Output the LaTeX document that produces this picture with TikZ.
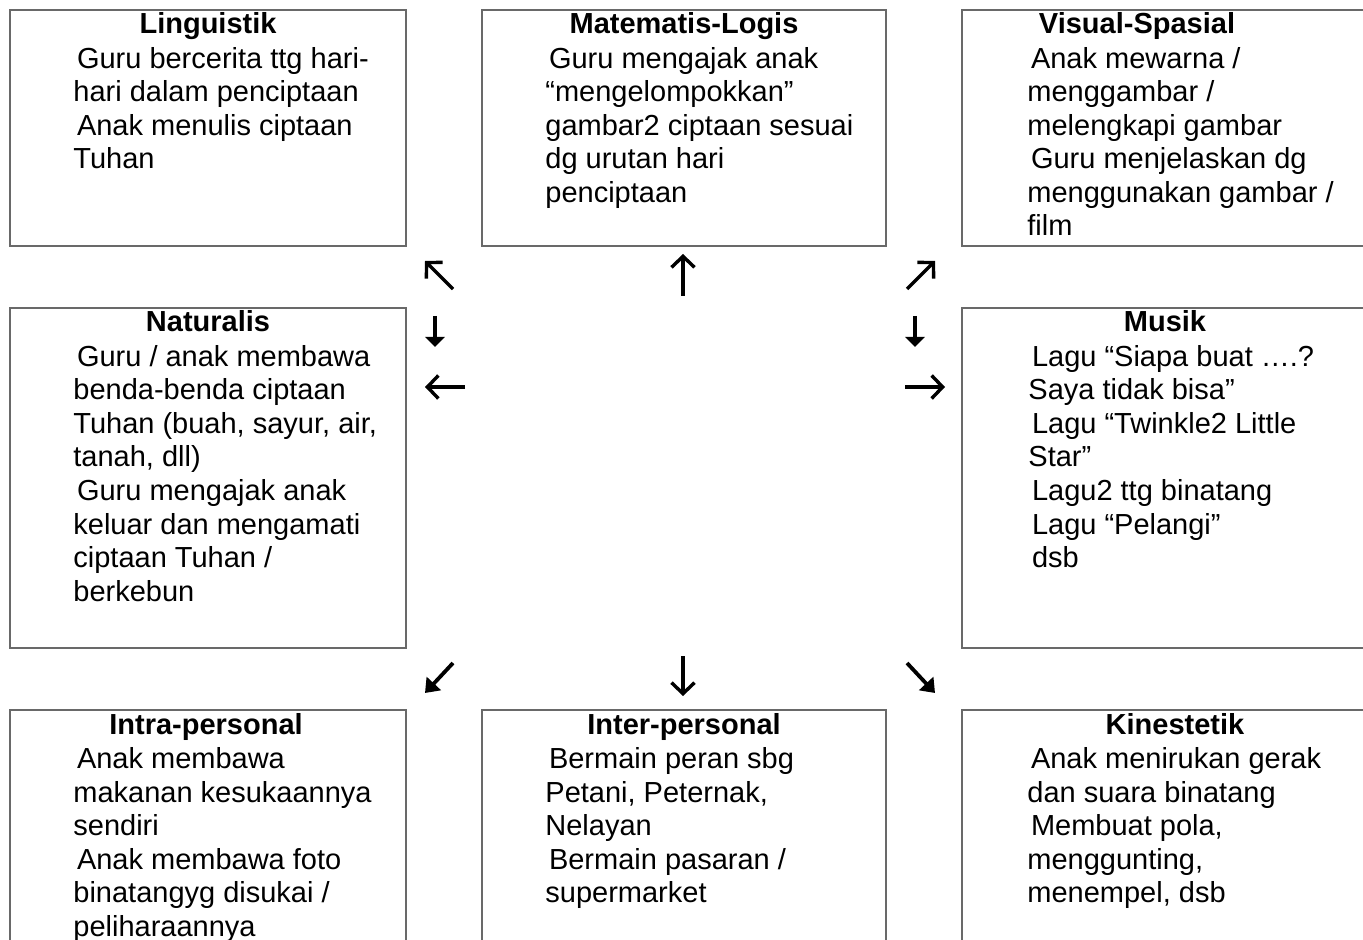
\documentclass[tikz,border=0pt]{standalone}
\usepackage{fontspec}
\setmainfont{Liberation Sans}
\usetikzlibrary{arrows.meta}
\definecolor{boxgray}{RGB}{105,105,105}
\newcommand{\ind}{\hspace*{1.8pt}}
\begin{document}
\begin{tikzpicture}[x=0.5pt,y=-0.5pt,
  box/.style={draw=boxgray, line width=1pt, inner sep=0, minimum width=198pt, minimum height=118pt},
  boxtitle/.style={anchor=base, inner sep=0, font=\fontsize{14.5pt}{16.75pt}\selectfont\bfseries},
  boxbody/.style={anchor=base west, inner sep=0, font=\fontsize{14.5pt}{16.75pt}\selectfont},
  openarr/.style={line width=1.7pt, -{Straight Barb[length=5.5pt,width=11.5pt]}},
  filledarr/.style={line width=1.6pt, -{Triangle[length=5pt,width=9.5pt]}},
  diagfill/.style={line width=1.9pt, -{Triangle[length=6.5pt,width=9.5pt]}}
]
\useasboundingbox (0,0) rectangle (1363,940);
\clip (0,0) rectangle (1363,940);
\fill[white] (0,0) rectangle (1363,940);

% boxes
\node[box] (bTL) at (208,128) {};
\node[box, minimum width=202pt] (bTM) at (684,128) {};
\node[box, minimum width=214pt] (bTR) at (1176,128) {};
\node[box, minimum height=170pt] (bML) at (208,478) {};
\node[box, minimum width=214pt, minimum height=170pt] (bMR) at (1176,478) {};
\node[box, minimum height=140pt] (bBL) at (208,850) {};
\node[box, minimum width=202pt, minimum height=140pt] (bBM) at (684,850) {};
\node[box, minimum width=214pt, minimum height=140pt] (bBR) at (1176,850) {};

% titles
\node[boxtitle] (tTL) at (208,34) {Linguistik};
\node[boxtitle] (tTM) at (684,34) {Matematis-Logis};
\node[boxtitle] (tTR) at (1137,34) {Visual-Spasial};
\node[boxtitle] (tML) at (208,332) {Naturalis};
\node[boxtitle] (tMR) at (1165,332) {Musik};
\node[boxtitle] (tBL) at (206,734) {Intra-personal};
\node[boxtitle] (tBM) at (684,734) {Inter-personal};
\node[boxtitle] (tBR) at (1175,734) {Kinestetik};

% bodies
\node[boxbody] (cTL) at (73,68.5) {\begin{tabular}[t]{@{}l@{}}\ind Guru bercerita ttg hari-\\hari dalam penciptaan\\\ind Anak menulis ciptaan\\Tuhan\end{tabular}};
\node[boxbody] (cTM) at (545,68.5) {\begin{tabular}[t]{@{}l@{}}\ind Guru mengajak anak\\“mengelompokkan”\\gambar2 ciptaan sesuai\\dg urutan hari\\penciptaan\end{tabular}};
\node[boxbody] (cTR) at (1027,68.5) {\begin{tabular}[t]{@{}l@{}}\ind Anak mewarna /\\menggambar /\\melengkapi gambar\\\ind Guru menjelaskan dg\\menggunakan gambar /\\film\end{tabular}};
\node[boxbody] (cML) at (73,366.5) {\begin{tabular}[t]{@{}l@{}}\ind Guru / anak membawa\\benda-benda ciptaan\\Tuhan (buah, sayur, air,\\tanah, dll)\\\ind Guru mengajak anak\\keluar dan mengamati\\ciptaan Tuhan /\\berkebun\end{tabular}};
\node[boxbody] (cMR) at (1028,366.5) {\begin{tabular}[t]{@{}l@{}}\ind Lagu “Siapa buat ….?\\Saya tidak bisa”\\\ind Lagu “Twinkle2 Little\\Star”\\\ind Lagu2 ttg binatang\\\ind Lagu “Pelangi”\\\ind dsb\end{tabular}};
\node[boxbody] (cBL) at (73,768.5) {\begin{tabular}[t]{@{}l@{}}\ind Anak membawa\\makanan kesukaannya\\sendiri\\\ind Anak membawa foto\\binatangyg disukai /\\peliharaannya\end{tabular}};
\node[boxbody] (cBM) at (545,768.5) {\begin{tabular}[t]{@{}l@{}}\ind Bermain peran sbg\\Petani, Peternak,\\Nelayan\\\ind Bermain pasaran /\\supermarket\end{tabular}};
\node[boxbody] (cBR) at (1027,768.5) {\begin{tabular}[t]{@{}l@{}}\ind Anak menirukan gerak\\dan suara binatang\\\ind Membuat pola,\\menggunting,\\menempel, dsb\end{tabular}};

% arrow end points
\coordinate (a1s) at (453,289); \coordinate (a1e) at (425,261);
\coordinate (a2s) at (683,296); \coordinate (a2e) at (683,254);
\coordinate (a3s) at (907,289); \coordinate (a3e) at (935,261);
\coordinate (a4s) at (435,316); \coordinate (a4e) at (435,347);
\coordinate (a5s) at (915,316); \coordinate (a5e) at (915,347);
\coordinate (a6s) at (465,387); \coordinate (a6e) at (425,387);
\coordinate (a7s) at (905,387); \coordinate (a7e) at (945,387);
\coordinate (a8s) at (453,663); \coordinate (a8e) at (425,693);
\coordinate (a9s) at (683,656); \coordinate (a9e) at (683,696);
\coordinate (a10s) at (907,663); \coordinate (a10e) at (935,693);

\draw[openarr] (a1s) -- (a1e);
\draw[openarr] (a2s) -- (a2e);
\draw[openarr] (a3s) -- (a3e);
\draw[filledarr] (a4s) -- (a4e);
\draw[filledarr] (a5s) -- (a5e);
\draw[openarr] (a6s) -- (a6e);
\draw[openarr] (a7s) -- (a7e);
\draw[diagfill] (a8s) -- (a8e);
\draw[openarr] (a9s) -- (a9e);
\draw[diagfill] (a10s) -- (a10e);
\end{tikzpicture}
\end{document}
